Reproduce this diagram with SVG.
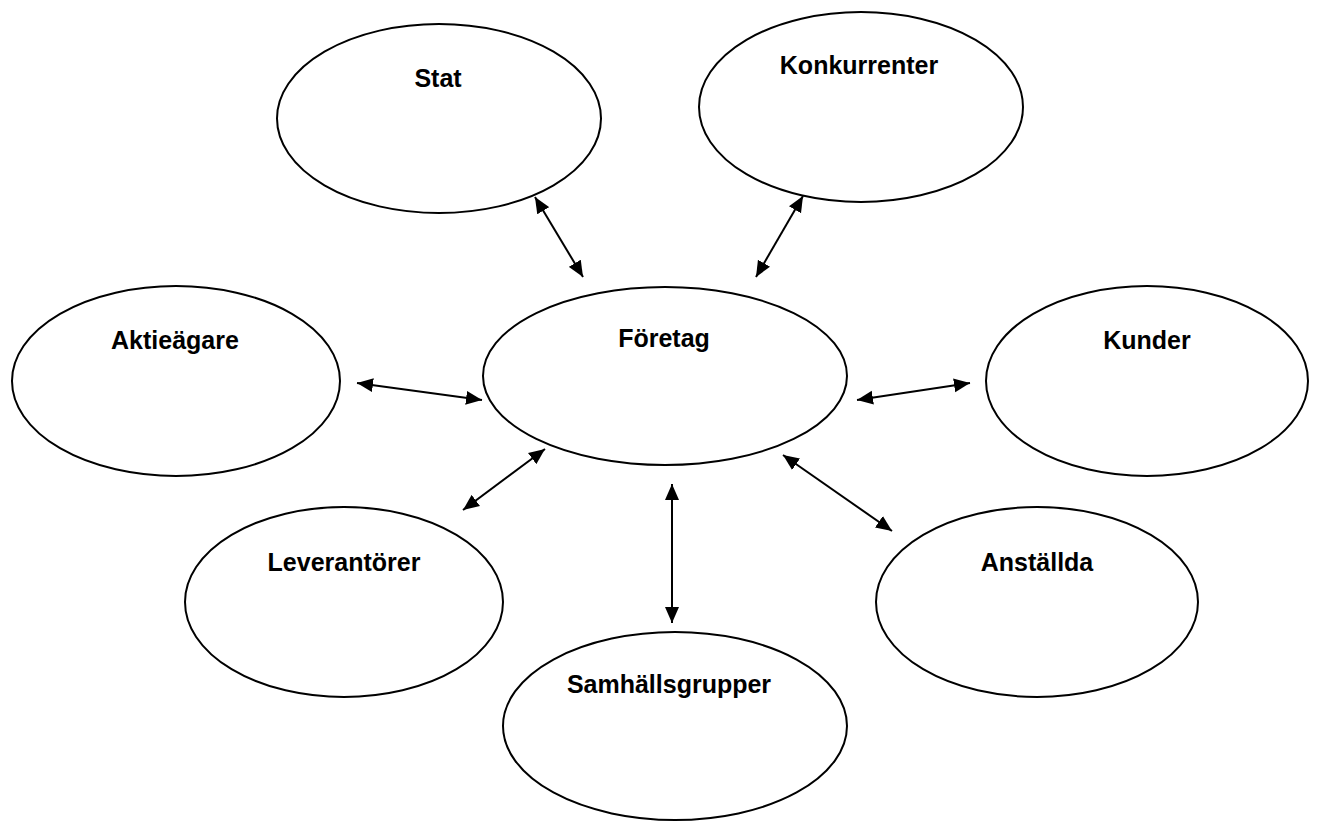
<svg xmlns="http://www.w3.org/2000/svg" width="1317" height="821" viewBox="0 0 1317 821">
<style>
.node ellipse{fill:#fff;stroke:#000;stroke-width:2}
.node text{font-family:"Liberation Sans",Arial,sans-serif;font-weight:bold;font-size:25px;text-anchor:middle;fill:#000}
.conn line{stroke:#000;stroke-width:2;marker-start:url(#ah);marker-end:url(#ah)}
</style>
<defs>
<marker id="ah" markerUnits="userSpaceOnUse" markerWidth="17" markerHeight="15" refX="16" refY="7.5" orient="auto-start-reverse" viewBox="0 0 17 15">
<path d="M0,0.5 L16,7.5 L0,14.5 z" fill="#000"/>
</marker>
</defs>
<rect width="1317" height="821" fill="#fff"/>
<g id="stat" class="node"><ellipse cx="439" cy="118.5" rx="162" ry="94.5"/><text x="438" y="87">Stat</text></g>
<g id="konkurrenter" class="node"><ellipse cx="861" cy="107" rx="162" ry="95"/><text x="859" y="74">Konkurrenter</text></g>
<g id="foretag" class="node"><ellipse cx="665" cy="376" rx="182" ry="89"/><text x="664" y="347">Företag</text></g>
<g id="aktieagare" class="node"><ellipse cx="176" cy="381" rx="164" ry="95"/><text x="175" y="349">Aktieägare</text></g>
<g id="kunder" class="node"><ellipse cx="1147" cy="381" rx="161" ry="95"/><text x="1147" y="349">Kunder</text></g>
<g id="leverantorer" class="node"><ellipse cx="344" cy="602" rx="159" ry="95"/><text x="344" y="571">Leverantörer</text></g>
<g id="anstallda" class="node"><ellipse cx="1037" cy="602" rx="161" ry="95"/><text x="1037" y="571">Anställda</text></g>
<g id="samhallsgrupper" class="node"><ellipse cx="675" cy="726" rx="172" ry="94"/><text x="669" y="693">Samhällsgrupper</text></g>
<g id="connectors" class="conn">
<line x1="535" y1="197" x2="583" y2="277"/>
<line x1="803" y1="196" x2="756" y2="277"/>
<line x1="357" y1="383" x2="482" y2="400"/>
<line x1="857" y1="400" x2="970" y2="383"/>
<line x1="545" y1="449" x2="463" y2="510"/>
<line x1="672" y1="484" x2="672" y2="623"/>
<line x1="783" y1="455" x2="892" y2="531"/>
</g>
</svg>
